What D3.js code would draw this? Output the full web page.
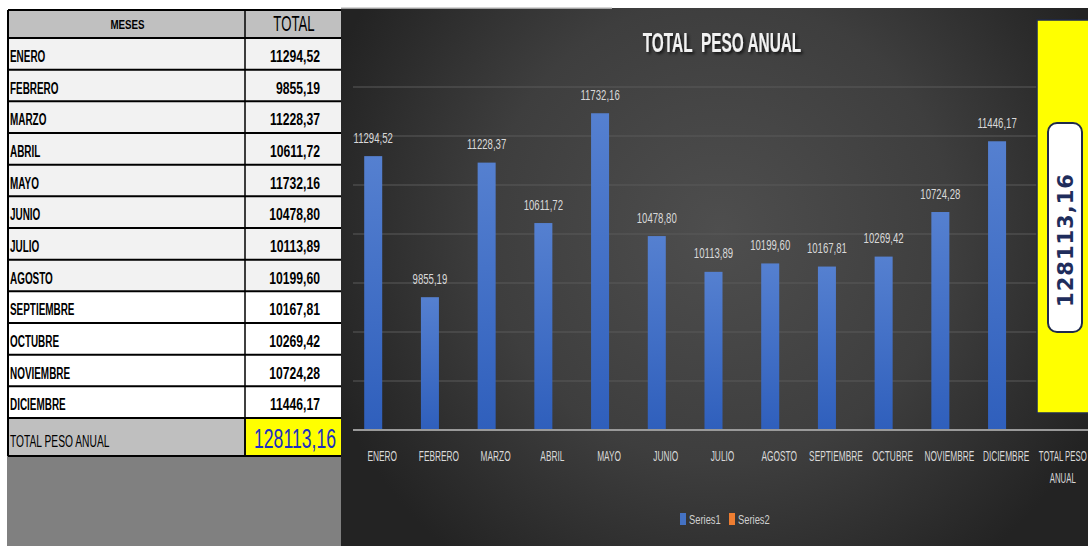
<!DOCTYPE html>
<html>
<head>
<meta charset="utf-8">
<script src="https://cdn.jsdelivr.net/npm/d3@7"></script>
<style>
  html, body { margin: 0; padding: 0; background: #ffffff; }
  svg { display: block; }
</style>
</head>
<body>
<div id="sheet"></div>
<script>
// --------------------------------------
//  Data
// --------------------------------------

const meses = ["ENERO", "FEBRERO", "MARZO", "ABRIL", "MAYO", "JUNIO", "JULIO",
  "AGOSTO", "SEPTIEMBRE", "OCTUBRE", "NOVIEMBRE", "DICIEMBRE"];
const totales = [11294.52, 9855.19, 11228.37, 10611.72, 11732.16, 10478.80,
  10113.89, 10199.60, 10167.81, 10269.42, 10724.28, 11446.17];
const totalLabel = "TOTAL PESO ANUAL";
const totalAnual = 128113.16;
const categorias = meses.concat([totalLabel]);
const series = ["Series1", "Series2"];
const seriesColors = ["#4472c4", "#ed7d31"];
const yTicks = [8500, 9000, 9500, 10000, 10500, 11000, 11500, 12000];

const fmt = v => v.toFixed(2).replace(".", ",");

const width = 1088, height = 546;
const sans = "'Liberation Sans', Arial, sans-serif";

// squeeze text horizontally (the original uses a narrow font)
function condense(sel, k) {
  sel.each(function() {
    const len = this.getComputedTextLength();
    this.setAttribute("textLength", len * k);
    this.setAttribute("lengthAdjust", "spacingAndGlyphs");
  });
}

const svg = d3.select("#sheet")
  .append("svg")
  .attr("width", width)
  .attr("height", height)
  .attr("viewBox", [0, 0, width, height]);

const defs = svg.append("defs");

// --------------------------------------
//  Table (left)
// --------------------------------------

const tbl = { x0: 8, x1: 245, x2: 343, top: 10, head: 28, rowH: 31.67, totH: 38 };
const rowY = i => tbl.top + tbl.head + i * tbl.rowH;
const totY = rowY(meses.length);

const table = svg.append("g");

// grey area below table
table.append("rect")
  .attr("x", 7).attr("y", totY + tbl.totH)
  .attr("width", 334).attr("height", height - totY - tbl.totH)
  .attr("fill", "#808080");

// header
table.append("rect")
  .attr("x", tbl.x0).attr("y", tbl.top)
  .attr("width", tbl.x2 - tbl.x0).attr("height", tbl.head)
  .attr("fill", "#c0c0c0");

table.append("text")
  .attr("x", (tbl.x0 + tbl.x1) / 2 + 1).attr("y", tbl.top + 19)
  .attr("text-anchor", "middle")
  .style("font", `bold 13px ${sans}`)
  .text("MESES")
  .call(condense, 0.75);

table.append("text")
  .attr("x", (tbl.x1 + tbl.x2) / 2).attr("y", tbl.top + 21)
  .attr("text-anchor", "middle")
  .style("font", `22px ${sans}`)
  .text("TOTAL")
  .call(condense, 0.6);

// month rows
const rows = table.selectAll("g.row")
  .data(meses)
  .join("g")
  .attr("class", "row")
  .attr("transform", (d, i) => `translate(0, ${rowY(i)})`);

rows.append("rect")
  .attr("x", tbl.x0).attr("width", tbl.x2 - tbl.x0).attr("height", tbl.rowH)
  .attr("fill", (d, i) => i < 8 ? "#f2f2f2" : "#ffffff");

rows.append("text")
  .attr("x", tbl.x0 + 2).attr("y", 24)
  .style("font", `bold 16px ${sans}`)
  .text(d => d)
  .call(condense, 0.62);

rows.append("text")
  .attr("x", 320).attr("y", 24)
  .attr("text-anchor", "end")
  .style("font", `bold 16px ${sans}`)
  .text((d, i) => fmt(totales[i]))
  .call(condense, 0.76);

// total row
table.append("rect")
  .attr("x", tbl.x0).attr("y", totY)
  .attr("width", tbl.x1 - tbl.x0).attr("height", tbl.totH)
  .attr("fill", "#bfbfbf");

table.append("rect")
  .attr("x", tbl.x1).attr("y", totY)
  .attr("width", tbl.x2 - tbl.x1).attr("height", tbl.totH)
  .attr("fill", "#ffff00")
  .attr("stroke", "#000").attr("stroke-width", 1.5);

table.append("text")
  .attr("x", tbl.x0 + 2).attr("y", totY + 29)
  .style("font", `16px ${sans}`)
  .text(totalLabel)
  .call(condense, 0.64);

table.append("text")
  .attr("x", (tbl.x1 + tbl.x2) / 2 + 1).attr("y", totY + 30)
  .attr("text-anchor", "middle")
  .attr("fill", "#1c2fc0")
  .style("font", `28px ${sans}`)
  .text(fmt(totalAnual))
  .call(condense, 0.63);

// grid lines of the table
const hLines = [tbl.top, tbl.top + tbl.head]
  .concat(d3.range(1, meses.length + 1).map(rowY))
  .concat([totY + tbl.totH]);

table.selectAll("line.h")
  .data(hLines)
  .join("line")
  .attr("x1", tbl.x0).attr("x2", tbl.x2)
  .attr("y1", d => d).attr("y2", d => d)
  .attr("stroke", "#000").attr("stroke-width", 2);

table.append("line")
  .attr("x1", tbl.x0).attr("x2", tbl.x0)
  .attr("y1", tbl.top).attr("y2", totY + tbl.totH)
  .attr("stroke", "#000").attr("stroke-width", 2);

table.append("line")
  .attr("x1", tbl.x1).attr("x2", tbl.x1)
  .attr("y1", tbl.top).attr("y2", totY + tbl.totH)
  .attr("stroke", "#000").attr("stroke-width", 1.5);

// --------------------------------------
//  Chart panel
// --------------------------------------

const bg = defs.append("radialGradient")
  .attr("id", "panelBg")
  .attr("gradientUnits", "userSpaceOnUse")
  .attr("cx", 720).attr("cy", 230).attr("r", 420);
bg.append("stop").attr("offset", "0%").attr("stop-color", "#4e4e4e");
bg.append("stop").attr("offset", "55%").attr("stop-color", "#3e3e3e");
bg.append("stop").attr("offset", "100%").attr("stop-color", "#232323");

const barGrad = defs.append("linearGradient")
  .attr("id", "barGrad")
  .attr("x1", 0).attr("y1", 0).attr("x2", 0).attr("y2", 1);
barGrad.append("stop").attr("offset", "0%").attr("stop-color", "#5580d0");
barGrad.append("stop").attr("offset", "100%").attr("stop-color", "#2f5fbc");

const shadow = defs.append("filter").attr("id", "shadow")
  .attr("x", "-20%").attr("y", "-20%").attr("width", "140%").attr("height", "160%");
shadow.append("feDropShadow")
  .attr("dx", 2).attr("dy", 2).attr("stdDeviation", 1.5)
  .attr("flood-color", "#000").attr("flood-opacity", 0.7);

const panel = { x: 341, y: 8, w: width - 341, h: height - 8 };

svg.append("rect")
  .attr("x", panel.x).attr("y", panel.y)
  .attr("width", panel.w).attr("height", panel.h)
  .attr("fill", "url(#panelBg)");

svg.append("line")
  .attr("x1", panel.x).attr("x2", 612)
  .attr("y1", panel.y).attr("y2", panel.y)
  .attr("stroke", "#c8c8c8").attr("stroke-width", 1.5);

// title
svg.append("text")
  .attr("x", 722).attr("y", 52)
  .attr("text-anchor", "middle")
  .attr("fill", "#f2f2f2")
  .attr("filter", "url(#shadow)")
  .style("font", `bold 28px ${sans}`)
  .style("white-space", "pre")
  .text("TOTAL  PESO ANUAL")
  .call(condense, 0.55);

// scales
const x = d3.scaleBand()
  .domain(categorias)
  .range([354, 1091])
  .paddingInner(0.365)
  .paddingOuter(0.18);

const x1 = d3.scaleBand()
  .domain(series)
  .range([0, x.bandwidth()]);

const y = d3.scaleLinear()
  .domain([8500, 12000])
  .range([430, 87]);

const chart = svg.append("g");

// gridlines
chart.selectAll("line.grid")
  .data(yTicks.slice(1))
  .join("line")
  .attr("x1", 353).attr("x2", width)
  .attr("y1", d => y(d)).attr("y2", d => y(d))
  .attr("stroke", "#5a5a5a").attr("stroke-width", 1);

// bars (Series1)
chart.selectAll("rect.bar")
  .data(meses)
  .join("rect")
  .attr("x", d => x(d) + x1("Series1"))
  .attr("y", (d, i) => y(totales[i]))
  .attr("width", x1.bandwidth())
  .attr("height", (d, i) => y(8500) - y(totales[i]))
  .attr("fill", "url(#barGrad)");

// data labels
chart.selectAll("text.lbl")
  .data(meses)
  .join("text")
  .attr("x", d => x(d) + x1("Series1") + x1.bandwidth() / 2)
  .attr("y", (d, i) => y(totales[i]) - 13.5)
  .attr("text-anchor", "middle")
  .attr("fill", "#d9d9d9")
  .style("font", `15px ${sans}`)
  .text((d, i) => fmt(totales[i]))
  .call(condense, 0.64);

// baseline
chart.append("line")
  .attr("x1", 353).attr("x2", width)
  .attr("y1", y(8500)).attr("y2", y(8500))
  .attr("stroke", "#9a9a9a").attr("stroke-width", 2);

// x axis labels
const xAxis = d3.axisBottom(x).tickSize(0).tickPadding(0);
const gx = chart.append("g")
  .attr("transform", `translate(0, ${y(8500)})`)
  .call(xAxis);
gx.select(".domain").remove();
gx.selectAll(".tick text")
  .attr("y", 31)
  .attr("dy", 0)
  .attr("fill", "#d9d9d9")
  .style("font", `15px ${sans}`)
  .each(function(d) {
    if (d === totalLabel) {
      const t = d3.select(this).text(null);
      t.append("tspan").attr("x", 0).attr("dy", 0).text("TOTAL PESO");
      t.append("tspan").attr("x", 0).attr("dy", 22).text("ANUAL");
    }
  });
gx.selectAll(".tick text")
  .filter(d => d !== totalLabel)
  .call(condense, 0.555);
gx.selectAll(".tick tspan")
  .call(condense, 0.52);

// --------------------------------------
//  Total annotation (Series2)
// --------------------------------------

const ann = svg.append("g");
ann.append("rect")
  .attr("x", 1037).attr("y", y(12000) - 67)
  .attr("width", 60).attr("height", y(8500) - 17 - (y(12000) - 67))
  .attr("fill", "#ffff00")
  .attr("stroke", "#1f2a4d").attr("stroke-width", 1.5);

ann.append("rect")
  .attr("x", 1048).attr("y", 123)
  .attr("width", 34).attr("height", 209)
  .attr("rx", 9)
  .attr("fill", "#ffffff")
  .attr("stroke", "#1f2a4d").attr("stroke-width", 2);

ann.append("text")
  .attr("transform", "translate(1073, 240) rotate(-90)")
  .attr("text-anchor", "middle")
  .attr("fill", "#1f2d5c")
  .style("font", "bold 21px 'DejaVu Sans', sans-serif")
  .style("letter-spacing", "1px")
  .text(fmt(totalAnual));

// --------------------------------------
//  Legend
// --------------------------------------

const legend = svg.append("g")
  .attr("transform", "translate(680, 513)");

const li = legend.selectAll("g")
  .data(series)
  .join("g")
  .attr("transform", (d, i) => `translate(${i * 49}, 0)`);

li.append("rect")
  .attr("width", 6).attr("height", 12)
  .attr("fill", (d, i) => seriesColors[i]);

li.append("text")
  .attr("x", 9).attr("y", 11)
  .attr("fill", "#d0d0d0")
  .style("font", `13px ${sans}`)
  .text(d => d)
  .call(condense, 0.72);
</script>
</body>
</html>
